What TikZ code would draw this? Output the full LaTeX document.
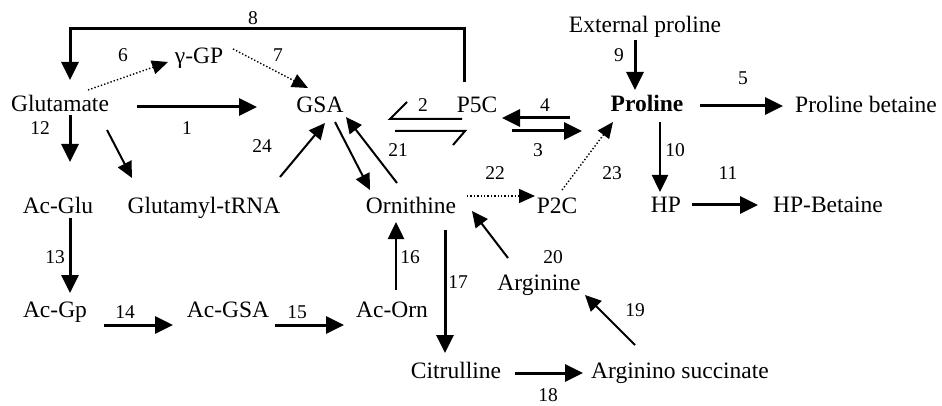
\documentclass[tikz,border=0pt]{standalone}
\usepackage{fontspec}
\setmainfont{Liberation Serif}
\usetikzlibrary{arrows.meta}
\begin{document}
\begin{tikzpicture}[x=1pt,y=-1pt,
  lbl/.style={inner sep=0pt, text height=16pt, text depth=0pt, font=\fontsize{23.5}{26}\selectfont},
  num/.style={inner sep=0pt, text height=13pt, text depth=0pt, font=\fontsize{19.5}{22}\selectfont},
  bigarr/.style={line width=3pt, -{Triangle[length=18pt,width=17pt]}},
  medarr/.style={line width=2.5pt, -{Triangle[length=17pt,width=16pt]}},
  thinarr/.style={line width=2pt, -{Triangle[length=16pt,width=15pt]}},
  dotarr/.style={line width=1.4pt, dotted, -{Triangle[length=16pt,width=14pt]}},
  harp/.style={line width=2pt}]
\useasboundingbox[fill=white] (0,0) rectangle (942,406);

% nodes
\node[lbl] (glu) at (60,104) {Glutamate};
\node[lbl] (ggp) at (199,56) {γ-GP};
\node[lbl] (gsa) at (320,105) {GSA};
\node[lbl] (p5c) at (477,105) {P5C};
\node[lbl] (pro) at (647,104) {\bfseries Proline};
\node[lbl] (extp) at (645,25) {External proline};
\node[lbl] (prob) at (866,105) {Proline betaine};
\node[lbl] (acglu) at (58,206) {Ac-Glu};
\node[lbl] (gtrna) at (204,206) {Glutamyl-tRNA};
\node[lbl] (orn) at (411,206) {Ornithine};
\node[lbl] (p2c) at (557,206) {P2C};
\node[lbl] (hp) at (666,205) {HP};
\node[lbl] (hpb) at (828,205) {HP-Betaine};
\node[lbl] (acgp) at (55,309) {Ac-Gp};
\node[lbl] (acgsa) at (228,309) {Ac-GSA};
\node[lbl] (acorn) at (392,309) {Ac-Orn};
\node[lbl] (arg) at (539,282) {Arginine};
\node[lbl] (cit) at (456,370) {Citrulline};
\node[lbl] (args) at (680,370) {Arginino succinate};

% number labels
\node[num] (n1) at (187,128) {1};
\node[num] (n2) at (423,105) {2};
\node[num] (n3) at (538,150) {3};
\node[num] (n4) at (545,105) {4};
\node[num] (n5) at (743,78) {5};
\node[num] (n6) at (123,55) {6};
\node[num] (n7) at (278,55) {7};
\node[num] (n8) at (253,18) {8};
\node[num] (n9) at (619,55) {9};
\node[num] (n10) at (675,150) {10};
\node[num] (n11) at (728,173) {11};
\node[num] (n12) at (40,128) {12};
\node[num] (n13) at (55,257) {13};
\node[num] (n14) at (125,312) {14};
\node[num] (n15) at (297,312) {15};
\node[num] (n16) at (410,257) {16};
\node[num] (n17) at (458,282) {17};
\node[num] (n18) at (548,395) {18};
\node[num] (n19) at (635,310) {19};
\node[num] (n20) at (553,257) {20};
\node[num] (n21) at (398,150) {21};
\node[num] (n22) at (495,173) {22};
\node[num] (n23) at (612,173) {23};
\node[num] (n24) at (262,146) {24};

% connectors
\draw[bigarr] ([shift={(-13,-23)}]p5c.center) -- ++(0,-53) -| ([shift={(10,-24)}]glu.center);
\draw[dotarr] ([shift={(28,-14)}]glu.center) -- ([shift={(-31,6)}]ggp.center);
\draw[dotarr] ([shift={(34,-7)}]ggp.center) -- ([shift={(-12,-17)}]gsa.center);
\draw[bigarr] ([shift={(77,3)}]glu.center) -- ([shift={(-63,2)}]gsa.center);
\draw[bigarr] ([shift={(10,11)}]glu.center) -- ([shift={(12,-44)}]acglu.center);
\draw[thinarr] ([shift={(47,26)}]glu.center) -- ([shift={(-72,-28)}]gtrna.center);
\draw[bigarr] ([shift={(12,12)}]acglu.center) -- ([shift={(15,-16)}]acgp.center);
\draw[bigarr] ([shift={(49,16)}]acgp.center) -- ([shift={(-55,16)}]acgsa.center);
\draw[bigarr] ([shift={(47,16)}]acgsa.center) -- ([shift={(-48,16)}]acorn.center);
\draw[medarr] ([shift={(4,-19)}]acorn.center) -- ([shift={(-15,16)}]orn.center);
\draw[bigarr] ([shift={(34,24)}]orn.center) -- ([shift={(-11,-17)}]cit.center);
\draw[bigarr] ([shift={(59,3)}]cit.center) -- ([shift={(-97,3)}]args.center);
\draw[thinarr] ([shift={(-45,-25)}]args.center) -- ([shift={(46,13)}]arg.center);
\draw[thinarr] ([shift={(-31,-24)}]arg.center) -- ([shift={(61,5)}]orn.center);
\draw[dotarr] ([shift={(56,-10)}]orn.center) -- ([shift={(-22,-10)}]p2c.center);
\draw[dotarr] ([shift={(5,-16)}]p2c.center) -- ([shift={(-34,18)}]pro.center);
\draw[thinarr] ([shift={(76,-29)}]gtrna.center) -- ([shift={(5,18)}]gsa.center);
\draw[thinarr] ([shift={(15,17)}]gsa.center) -- ([shift={(-41,-16)}]orn.center);
\draw[thinarr] ([shift={(-14,-23)}]orn.center) -- ([shift={(26,12)}]gsa.center);
% equilibrium half-arrows (2 / 21)
\draw[harp] ([shift={(-15,14)}]p5c.center) -- ([shift={(70,14)}]gsa.center) -- ++(17,-17);
\draw[harp] ([shift={(75,26)}]gsa.center) -- ([shift={(-12,26)}]p5c.center) -- ++(-12,14);
% 4 and 3
\draw[bigarr] ([shift={(-77,14)}]pro.center) -- ([shift={(25,13)}]p5c.center);
\draw[bigarr] ([shift={(35,26)}]p5c.center) -- ([shift={(-65,27)}]pro.center);
\draw[bigarr] ([shift={(-10,15)}]extp.center) -- ([shift={(-12,-14)}]pro.center);
\draw[bigarr] ([shift={(53,2)}]pro.center) -- ([shift={(-83,1)}]prob.center);
\draw[medarr] ([shift={(13,18)}]pro.center) -- ([shift={(-6,-13)}]hp.center);
\draw[bigarr] ([shift={(26,0)}]hp.center) -- ([shift={(-70,0)}]hpb.center);
\end{tikzpicture}
\end{document}
